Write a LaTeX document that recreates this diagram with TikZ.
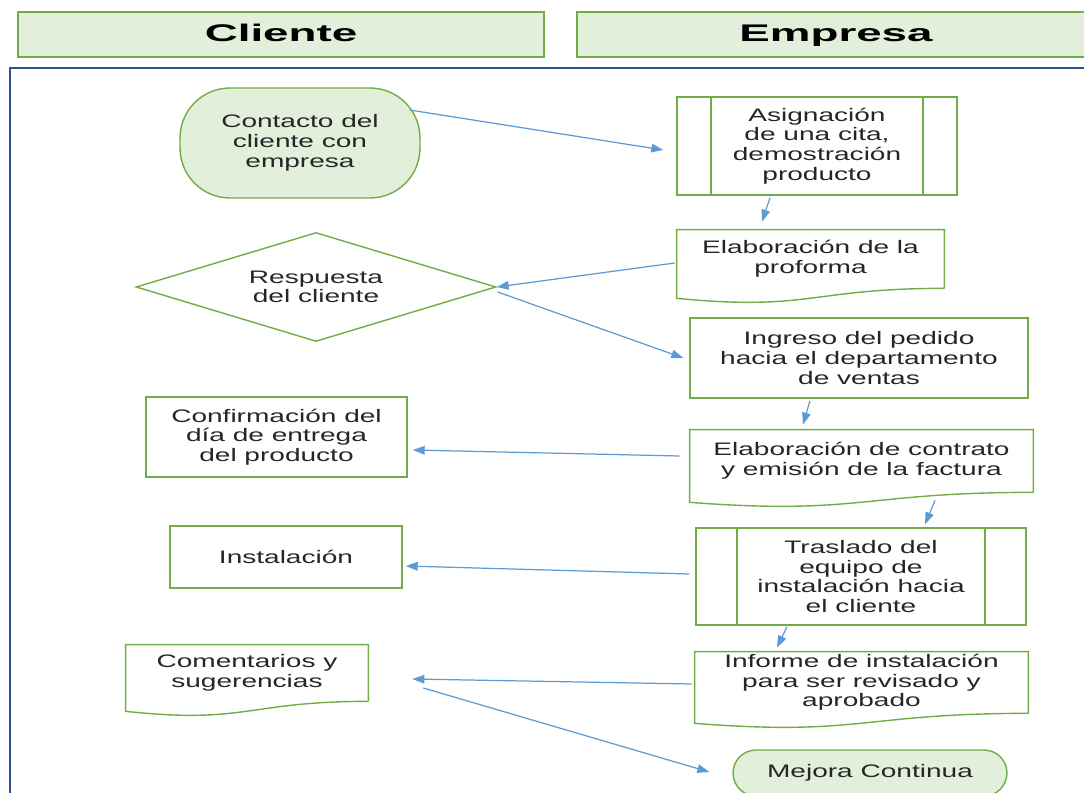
\documentclass[tikz,border=0pt]{standalone}
\usepackage{fontspec}
\setmainfont{Liberation Sans}[FakeStretch=1.55]
\newfontfamily\headfont{Liberation Sans}[FakeStretch=1.9]
\usetikzlibrary{shapes.geometric,arrows.meta,calc}
\definecolor{grn}{HTML}{70AD47}
\definecolor{lgrn}{HTML}{E2EFDA}
\definecolor{flowblue}{HTML}{5B9BD5}
\definecolor{framebl}{HTML}{2F528F}
\definecolor{txt}{HTML}{262626}
% outline of a document box, wavy bottom
\newcommand\docwave[1]{%
  \draw[grn,line width=0.8pt] (#1.south east) -- (#1.north east) -- (#1.north west)
    -- ($(#1.south west)+(0,10)$) .. controls ($(#1.south)+(0,23)$) and (#1.south) .. (#1.south east);}
\begin{document}
\begin{tikzpicture}[x=0.02cm,y=-0.02cm,
    every node/.style={text=txt,font=\fontsize{10.3}{11.2}\selectfont,align=center,inner sep=0pt},
    head/.style={draw=grn,line width=0.8pt,fill=lgrn,minimum height=0.9cm,text height=0.34cm,text depth=0.04cm,
      font=\headfont\fontsize{13.7}{15}\selectfont\bfseries,text=black},
    box/.style={draw=grn,line width=0.8pt,fill=white},
    term/.style={draw=grn,line width=0.8pt,fill=lgrn,rounded corners=#1},
    proc/.style={box,path picture={
      \draw[grn,line width=0.8pt] ([xshift=#1]path picture bounding box.north west) -- ([xshift=#1]path picture bounding box.south west);
      \draw[grn,line width=0.8pt] ([xshift=-#1]path picture bounding box.north east) -- ([xshift=-#1]path picture bounding box.south east);}},
    doc/.style={fill=white},
    dec/.style={diamond,draw=grn,line width=0.8pt,aspect=3.3},
    flow/.style={draw=flowblue,line width=0.7pt,-{Triangle[length=0.24cm,width=0.17cm]}}]
  \useasboundingbox (0,0) rectangle (1084,793);
  \draw[framebl,line width=0.9pt] (10,800) |- (1090,68);
  \node[head,minimum width=10.52cm] (cli) at (281,34.5) {Cliente};
  \node[head,minimum width=10.36cm] (emp) at (836,34.5) {Empresa};
  \node[term=1cm,minimum width=4.8cm,minimum height=2.2cm] (con) at (300,143) {Contacto del\\cliente con\\empresa};
  \node[proc=0.68cm,minimum width=5.6cm,minimum height=1.96cm] (asig) at (817,146) {Asignación\\de una cita,\\demostración\\producto};
  \node[doc,minimum width=5.34cm,minimum height=1.16cm] (prof) at (810.5,259) {Elaboración de la\\proforma};
  \node[dec,minimum width=7.2cm,minimum height=2.18cm] (resp) at (316,287) {Respuesta\\del cliente};
  \node[box,minimum width=6.76cm,minimum height=1.6cm] (ing) at (859,358) {Ingreso del pedido\\hacia el departamento\\de ventas};
  \node[box,minimum width=5.22cm,minimum height=1.6cm] (conf) at (276.5,437) {Confirmación del\\día de entrega\\del producto};
  \node[doc,minimum width=6.86cm,minimum height=1.24cm] (contr) at (861.5,461) {Elaboración de contrato\\y emisión de la factura};
  \node[box,minimum width=4.64cm,minimum height=1.24cm] (inst) at (286,557) {Instalación};
  \node[proc=0.82cm,minimum width=6.6cm,minimum height=1.94cm] (trasl) at (861,576.5) {Traslado del\\equipo de\\instalación hacia\\el cliente};
  \node[doc,minimum width=4.84cm,minimum height=1.12cm] (com) at (247,673) {Comentarios y\\sugerencias};
  \node[doc,minimum width=6.66cm,minimum height=1.22cm] (inf) at (861.5,682.5) {Informe de instalación\\para ser revisado y\\aprobado};
  \node[term=0.46cm,minimum width=5.48cm,minimum height=0.92cm] (mej) at (870,773) {Mejora Continua};
  \docwave{prof}
  \docwave{contr}
  \docwave{com}
  \docwave{inf}
  \draw[flow] ($(con.east)+(-11,-33)$) -- ($(asig.west)+(-13,4)$);
  \draw[flow] ($(asig.south)+(-47,2)$) -- ($(prof.north)+(-48.5,-8)$);
  \draw[flow] ($(prof.west)+(-2,4)$) -- (resp.east);
  \draw[flow] ($(resp.east)+(1,5)$) -- ($(ing.west)+(-6,0)$);
  \draw[flow] ($(ing.south)+(-49,2)$) -- ($(contr.north)+(-58.5,-5)$);
  \draw[flow] ($(contr.west)+(-10,-5)$) -- ($(conf.east)+(5,13)$);
  \draw[flow] ($(contr.south)+(73.5,8)$) -- ($(trasl.north)+(64,-3)$);
  \draw[flow] ($(trasl.west)+(-6,-2.5)$) -- ($(inst.east)+(3,9)$);
  \draw[flow] ($(trasl.south)+(-74,1)$) -- ($(inf.north)+(-84.5,-4)$);
  \draw[flow] ($(inf.west)+(-3,1.5)$) -- ($(com.east)+(44,6)$);
  \draw[flow] ($(com.east)+(55,15)$) -- ($(mej.west)+(-23,-1)$);
\end{tikzpicture}
\end{document}
